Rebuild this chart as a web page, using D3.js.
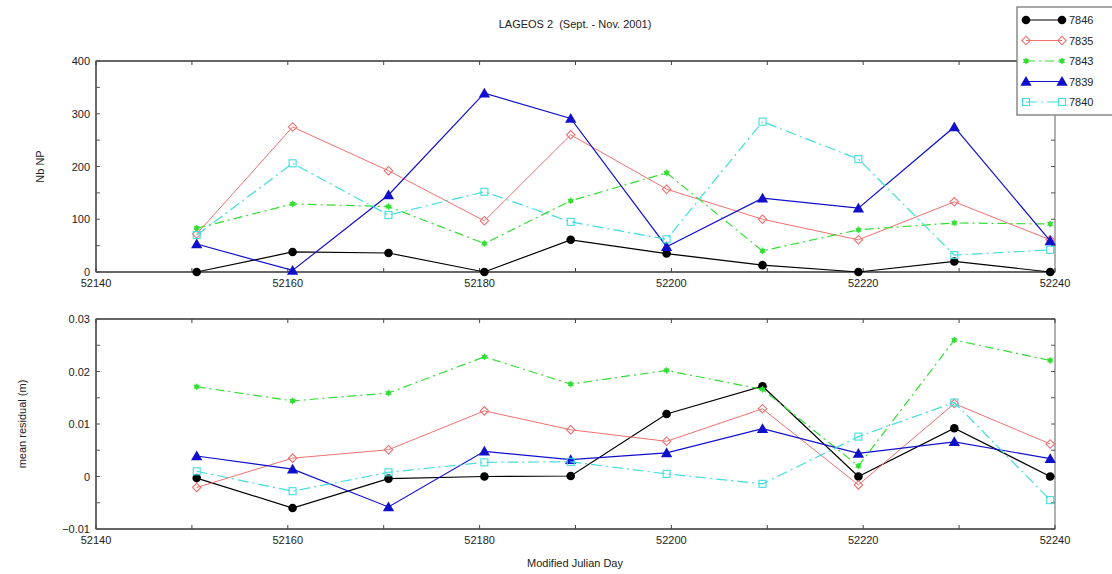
<!DOCTYPE html>
<html>
<head>
<meta charset="utf-8">
<script src="https://cdn.jsdelivr.net/npm/d3@7"></script>
<style>
  body { margin: 0; background: #fff; }
  svg text { font-family: "Liberation Sans", Arial, sans-serif; fill: #222; }
</style>
</head>
<body>
<svg id="chart" width="1112" height="574"></svg>
<script>
// day of each normal-point batch (MJD)
const days = [52150.5, 52160.5, 52170.5, 52180.5, 52189.5, 52199.5, 52209.5, 52219.5, 52229.5, 52239.5]
const stations = ['7846', '7835', '7843', '7839', '7840']

// number of normal points per station
const nbNP = {
  7846: [0, 38, 36, 0, 61, 35, 13, 0, 20, 0],
  7835: [72, 275, 192, 97, 260, 157, 100, 61, 133, 61],
  7843: [83, 129, 124, 54, 135, 188, 40, 80, 93, 91],
  7839: [53, 3, 146, 339, 291, 48, 140, 121, 275, 59],
  7840: [70, 206, 108, 152, 95, 62, 285, 214, 32, 42]
}
// mean residual (m)
const meanRes = {
  7846: [-0.0003, -0.0060, -0.0004, 0.0000, 0.0001, 0.0119, 0.0172, 0.0000, 0.0092, 0.0000],
  7835: [-0.0021, 0.0035, 0.0051, 0.0125, 0.0089, 0.0067, 0.0129, -0.0016, 0.0139, 0.0062],
  7843: [0.0171, 0.0144, 0.0159, 0.0228, 0.0176, 0.0202, 0.0166, 0.0020, 0.0260, 0.0221],
  7839: [0.0039, 0.0014, -0.0058, 0.0048, 0.0032, 0.0045, 0.0091, 0.0044, 0.0066, 0.0034],
  7840: [0.0010, -0.0028, 0.0008, 0.0027, 0.0028, 0.0005, -0.0014, 0.0076, 0.0141, -0.0045]
}

const xTicks = [52140, 52160, 52180, 52200, 52220, 52240]
const topTicks = [0, 100, 200, 300, 400]
const botTicks = [-0.01, 0, 0.01, 0.02, 0.03]

const styles = {
  7846: { color: '#000000', dash: null, width: 1.2, marker: 'circle' },
  7835: { color: '#f07070', dash: null, width: 1, marker: 'diamond' },
  7843: { color: '#33dd33', dash: '9,4,2,4', width: 1.2, marker: 'dot' },
  7839: { color: '#1010cc', dash: null, width: 1.2, marker: 'triangle' },
  7840: { color: '#44dddd', dash: '11,4,2,4', width: 1.2, marker: 'square' }
}

const svg = d3.select('#chart')
const left = 96
const right = 1055
const x = d3.scaleLinear().domain([52140, 52240]).range([left, right])

function drawMarker (g, st, cx, cy) {
  if (st.marker === 'circle') {
    g.append('circle').attr('cx', cx).attr('cy', cy).attr('r', 4.3).attr('fill', st.color)
  } else if (st.marker === 'diamond') {
    g.append('rect').attr('x', -3).attr('y', -3).attr('width', 6).attr('height', 6)
      .attr('transform', `translate(${cx},${cy}) rotate(45)`)
      .attr('fill', 'none').attr('stroke', st.color).attr('stroke-width', 1.1)
  } else if (st.marker === 'dot') {
    g.append('path').attr('d', d3.symbol(d3.symbolAsterisk, 30)())
      .attr('transform', `translate(${cx},${cy})`)
      .attr('fill', 'none').attr('stroke', st.color).attr('stroke-width', 1.1)
    g.append('circle').attr('cx', cx).attr('cy', cy).attr('r', 2.4).attr('fill', st.color)
  } else if (st.marker === 'triangle') {
    g.append('path').attr('d', d3.symbol(d3.symbolTriangle, 55)())
      .attr('transform', `translate(${cx},${cy + 1})`)
      .attr('fill', st.color)
  } else if (st.marker === 'square') {
    g.append('rect').attr('x', cx - 3.5).attr('y', cy - 3.5).attr('width', 7).attr('height', 7)
      .attr('fill', 'none').attr('stroke', st.color).attr('stroke-width', 1.1)
  }
}

function panel (top, bottom, y, yTicks, yMinor, table, yFmt, ylabel, ylabelX) {
  const g = svg.append('g')
  // frame
  g.append('rect').attr('x', left).attr('y', top).attr('width', right - left).attr('height', bottom - top)
    .attr('fill', 'none').attr('stroke', '#888').attr('stroke-width', 1.3)
  g.append('line').attr('x1', left).attr('x2', right).attr('y1', top).attr('y2', top)
    .attr('stroke', '#666').attr('stroke-width', 2)
  g.append('line').attr('x1', left).attr('x2', right).attr('y1', bottom).attr('y2', bottom)
    .attr('stroke', '#666').attr('stroke-width', 2)
  g.append('line').attr('x1', left).attr('x2', left).attr('y1', top).attr('y2', bottom)
    .attr('stroke', '#555').attr('stroke-width', 1.5)

  // x ticks (inward, every 10 days)
  const xt = d3.range(52140, 52241, 10)
  xt.forEach(t => {
    g.append('line').attr('x1', x(t)).attr('x2', x(t)).attr('y1', top).attr('y2', top + 4).attr('stroke', '#444')
    g.append('line').attr('x1', x(t)).attr('x2', x(t)).attr('y1', bottom).attr('y2', bottom - 4).attr('stroke', '#444')
  })
  xTicks.forEach(t => {
    g.append('text').attr('x', x(t)).attr('y', bottom + 15).attr('text-anchor', 'middle')
      .attr('font-size', 11).text(t)
  })
  // y ticks
  yMinor.forEach(t => {
    g.append('line').attr('x1', left).attr('x2', left + 4).attr('y1', y(t)).attr('y2', y(t)).attr('stroke', '#555')
    g.append('line').attr('x1', right).attr('x2', right - 4).attr('y1', y(t)).attr('y2', y(t)).attr('stroke', '#555')
  })
  yTicks.forEach(t => {
    g.append('text').attr('x', left - 6).attr('y', y(t) + 4).attr('text-anchor', 'end')
      .attr('font-size', 11).text(yFmt(t))
  })
  g.append('text').attr('transform', `translate(${ylabelX},${(top + bottom) / 2}) rotate(-90)`)
    .attr('text-anchor', 'middle').attr('font-size', 11).text(ylabel)

  // series
  stations.forEach(s => {
    const st = styles[s]
    const pts = days.map((d, i) => [x(d), y(table[s][i])])
    g.append('path').attr('d', d3.line()(pts)).attr('fill', 'none')
      .attr('stroke', st.color).attr('stroke-width', st.width)
      .attr('stroke-dasharray', st.dash)
    pts.forEach(p => drawMarker(g, st, p[0], p[1]))
  })
}

const yTop = d3.scaleLinear().domain([0, 400]).range([272, 61])
panel(61, 272, yTop, topTicks, d3.range(0, 401, 50), nbNP, d3.format('d'), 'Nb NP', 44)

const yBot = d3.scaleLinear().domain([-0.01, 0.03]).range([529, 319])
panel(319, 529, yBot, botTicks, d3.range(-0.01, 0.0301, 0.005), meanRes,
  v => (Math.abs(v) < 1e-9 ? '0' : d3.format('.2f')(v)), 'mean residual (m)', 26)

// titles
svg.append('text').attr('x', 575).attr('y', 28).attr('text-anchor', 'middle').attr('font-size', 11)
  .attr('xml:space', 'preserve').text('LAGEOS 2  (Sept. - Nov. 2001)')
svg.append('text').attr('x', 575).attr('y', 567).attr('text-anchor', 'middle').attr('font-size', 11)
  .text('Modified Julian Day')

// legend
const lg = svg.append('g')
lg.append('rect').attr('x', 1017).attr('y', 7).attr('width', 100).attr('height', 108)
  .attr('fill', '#fff').attr('stroke', '#777').attr('stroke-width', 1.3)
stations.forEach((s, i) => {
  const st = styles[s]
  const ly = 20 + i * 20.5
  lg.append('line').attr('x1', 1026).attr('x2', 1062).attr('y1', ly).attr('y2', ly)
    .attr('stroke', st.color).attr('stroke-width', st.width).attr('stroke-dasharray', st.dash)
  drawMarker(lg, st, 1026, ly)
  drawMarker(lg, st, 1062, ly)
  lg.append('text').attr('x', 1069).attr('y', ly + 4).attr('font-size', 11).text(s)
})
</script>
</body>
</html>
